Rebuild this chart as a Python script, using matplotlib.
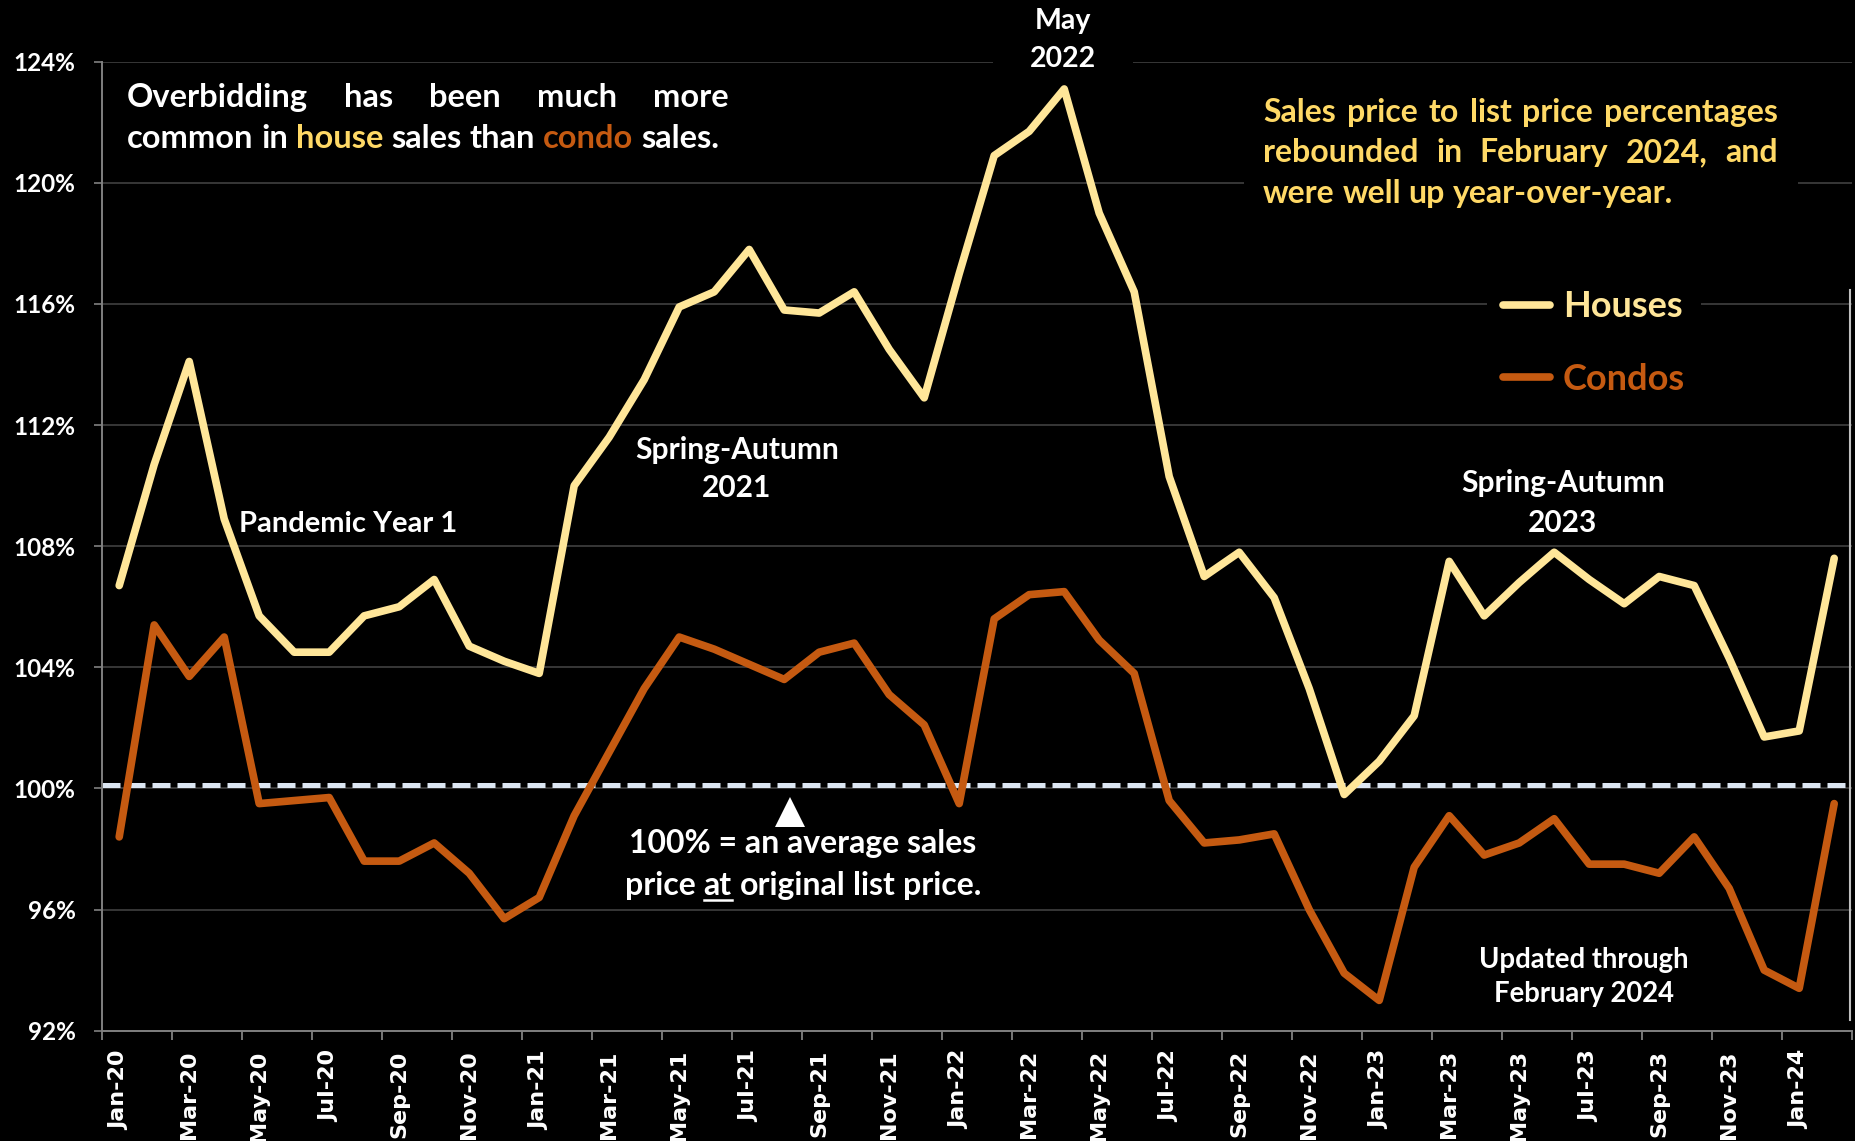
import matplotlib.pyplot as plt
import matplotlib.patches as mpatches
import matplotlib.transforms as mtransforms
from matplotlib.lines import Line2D
from matplotlib.ticker import FuncFormatter
import numpy as np
import pandas as pd

plt.rcParams["font.family"] = ["Lato", "DejaVu Sans"]

# Monthly sales-price / list-price ratio, Jan 2020 .. Feb 2024 (percent)
months = pd.date_range("2020-01-01", "2024-02-01", freq="MS").strftime("%b-%y").tolist()

houses = [106.7, 110.7, 114.1, 108.9, 105.7, 104.5, 104.5, 105.7, 106.0, 106.9,
          104.7, 104.2, 103.8, 110.0, 111.6, 113.5, 115.9, 116.4, 117.8, 115.8,
          115.7, 116.4, 114.5, 112.9, 117.0, 120.9, 121.7, 123.1, 119.0, 116.4,
          110.3, 107.0, 107.8, 106.3, 103.3, 99.8, 100.9, 102.4, 107.5, 105.7,
          106.8, 107.8, 106.9, 106.1, 107.0, 106.7, 104.3, 101.7, 101.9, 107.6]

condos = [98.4, 105.4, 103.7, 105.0, 99.5, 99.6, 99.7, 97.6, 97.6, 98.2,
          97.2, 95.7, 96.4, 99.1, 101.2, 103.3, 105.0, 104.6, 104.1, 103.6,
          104.5, 104.8, 103.1, 102.1, 99.5, 105.6, 106.4, 106.5, 104.9, 103.8,
          99.6, 98.2, 98.3, 98.5, 96.0, 93.9, 93.0, 97.4, 99.1, 97.8,
          98.2, 99.0, 97.5, 97.5, 97.2, 98.4, 96.7, 94.0, 93.4, 99.5]

at_list = 100.1
y_ticks = list(range(92, 125, 4))

HOUSE_C = "#FFE699"
CONDO_C = "#C55A11"
GOLD = "#FFD966"
GRID_C = "#404040"
AXIS_C = "#808080"

W, H = 1856, 1141


def fx(px):
    return px / W


def fy(py):
    return 1 - py / H


fig = plt.figure(figsize=(W / 100, H / 100), dpi=100, facecolor="black")
ax = fig.add_axes([fx(101.7), fy(1030.7), 1750 / W, 969 / H], facecolor="black")
renderer = fig.canvas.get_renderer()

x = np.arange(len(months))
ax.plot(x, houses, color=HOUSE_C, lw=5.5, solid_joinstyle="round",
        solid_capstyle="round", label="Houses", zorder=3)
ax.plot(x, condos, color=CONDO_C, lw=5.5, solid_joinstyle="round",
        solid_capstyle="round", label="Condos", zorder=3)
ax.axhline(at_list, color="#DCE6F2", lw=3.6, dashes=(3.6, 1.4), zorder=2.5)

ax.set_xlim(-0.5, len(months) - 0.5)
ax.set_ylim(92, 124)

# category axis: labels on every other month, tick marks between categories
ax.set_xticks(x[::2])
ax.set_xticklabels(months[::2], rotation=90, fontfamily="DejaVu Sans",
                   fontweight="bold", fontsize=16, color="white")
ax.set_xticks(np.arange(-0.5, len(months), 2), minor=True)
ax.tick_params(axis="x", which="major", length=0, pad=14)
ax.tick_params(axis="x", which="minor", length=6.5, width=1.3, color=AXIS_C)

ax.set_yticks(y_ticks)
ax.yaxis.set_major_formatter(FuncFormatter(lambda v, _: f"{v:.0f}%"))
ax.tick_params(axis="y", length=5.8, width=1.2, color=AXIS_C, pad=13,
               labelsize=17.5, labelcolor="white")
for lbl in ax.get_yticklabels():
    lbl.set_fontweight("bold")

ax.yaxis.grid(True, color=GRID_C, lw=1.2)
ax.set_axisbelow(True)
for side in ("top", "right"):
    ax.spines[side].set_visible(False)
for side in ("left", "bottom"):
    ax.spines[side].set_color(AXIS_C)
    ax.spines[side].set_linewidth(1.4)

# black strips so the gridlines stop short of the text blocks
blend = mtransforms.blended_transform_factory(fig.transFigure, ax.transData)
for left, right, level in [(993, 1133, 124), (1244, 1798, 120)]:
    ax.add_patch(mpatches.Rectangle((fx(left), level - 0.3), fx(right) - fx(left), 0.6,
                                    transform=blend, facecolor="black", edgecolor="none",
                                    zorder=1.5, clip_on=False))

leg = ax.legend(loc="center left", bbox_to_anchor=(fx(1487), fy(343)),
                bbox_transform=fig.transFigure, frameon=True, facecolor="black",
                edgecolor="none", framealpha=1, prop={"weight": "bold", "size": 26},
                handlelength=1.3, handletextpad=0.35, labelspacing=1.1,
                borderpad=0.45, borderaxespad=0)
for txt, line in zip(leg.get_texts(), leg.get_lines()):
    txt.set_color(line.get_color())
    line.set_solid_capstyle("round")


def text_width(s, size):
    t = ax.text(0, 0, s, fontsize=size, fontweight="bold", transform=fig.transFigure)
    w = t.get_window_extent(renderer).width
    t.remove()
    return w


def place_line(words, colors, y, size, x0=None, x1=None, center=None):
    """Lay out a row of words; justified when both x0 and x1 are given."""
    widths = [text_width(w, size) for w in words]
    if x0 is not None and x1 is not None:
        gap = (x1 - x0 - sum(widths)) / (len(words) - 1)
    else:
        gap = text_width("a a", size) - text_width("aa", size)
    if center is not None:
        x0 = center - (sum(widths) + gap * (len(words) - 1)) / 2
    spans = []
    pos = x0
    for w, c, wd in zip(words, colors, widths):
        ax.text(fx(pos), fy(y), w, color=c, fontsize=size, fontweight="bold",
                va="baseline", ha="left", transform=fig.transFigure, zorder=4)
        spans.append((pos, pos + wd))
        pos += wd + gap
    return spans


def centered(s, cx, y, size, color="white"):
    ax.text(fx(cx), fy(y), s, color=color, fontsize=size, fontweight="bold",
            ha="center", va="baseline", transform=fig.transFigure, zorder=4)


# top-left note
line1 = "Overbidding has been much more".split()
place_line(line1, ["white"] * len(line1), 107, 23.5, x0=127, x1=729)
line2 = ["common", "in", "house", "sales", "than", "condo", "sales."]
colors2 = ["white", "white", GOLD, "white", "white", CONDO_C, "white"]
place_line(line2, colors2, 148, 23.5, x0=127)

# top-right note
r1 = "Sales price to list price percentages".split()
place_line(r1, [GOLD] * len(r1), 122, 23, x0=1263, x1=1778)
r2 = "rebounded in February 2024, and".split()
place_line(r2, [GOLD] * len(r2), 162, 23, x0=1263, x1=1778)
r3 = "were well up year-over-year.".split()
place_line(r3, [GOLD] * len(r3), 203, 23, x0=1263)

# period labels
centered("May", 1063, 29, 20.5)
centered("2022", 1063, 67, 20.5)
centered("Pandemic Year 1", 348, 532, 21)
centered("Spring-Autumn", 737, 459, 21.5)
centered("2021", 737, 497, 21.5)
centered("Spring-Autumn", 1563, 492, 21.5)
centered("2023", 1563, 532, 21.5)
centered("Updated through", 1584, 968, 19.8)
centered("February 2024", 1584, 1002, 19.8)

# 100% explanation with pointer
ax.plot([fx(790)], [fy(811.5)], marker="^", ms=21.6, mew=0, color="white",
        transform=fig.transFigure, clip_on=False, zorder=4)
centered("100% = an average sales", 803, 853, 23)
spans = place_line(["price", "at", "original", "list", "price."], ["white"] * 5,
                   895, 23, center=803)
ax.plot([fx(spans[1][0]), fx(spans[1][1])], [fy(900), fy(900)], color="white",
        lw=1.8, transform=fig.transFigure, clip_on=False, zorder=4)

fig.add_artist(Line2D([fx(1850), fx(1850)], [fy(290), fy(1020)], color="#BFBFBF", lw=1.5))

fig.savefig("out.png", dpi=100, facecolor="black")
